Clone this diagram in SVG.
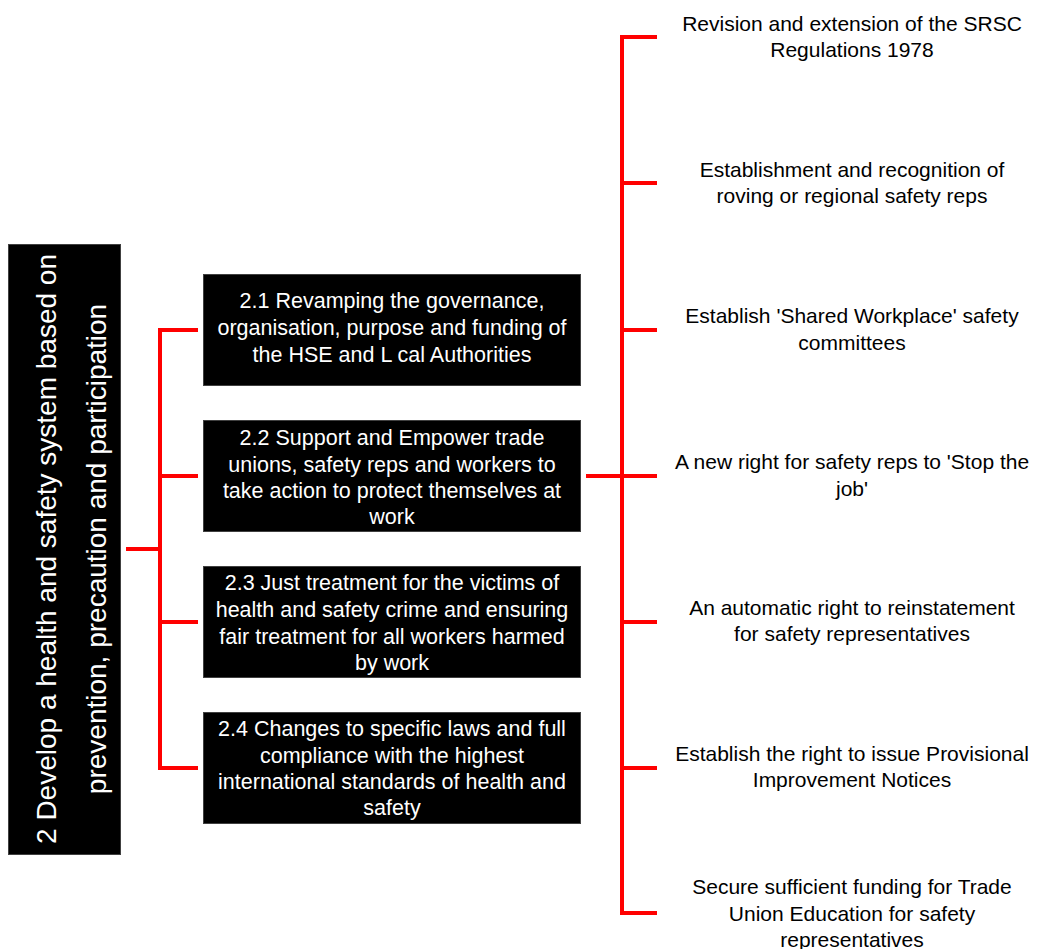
<svg xmlns="http://www.w3.org/2000/svg" width="1044" height="949" viewBox="0 0 1044 949">
<style>
.box{fill:#000;stroke:#404040;stroke-width:1}
.wt{fill:#fff;font-family:"Liberation Sans",Arial,sans-serif;font-size:21.5px;text-anchor:middle}
.bt{fill:#000;font-family:"Liberation Sans",Arial,sans-serif;font-size:21px;text-anchor:middle}
.mt{fill:#fff;font-family:"Liberation Sans",Arial,sans-serif;font-size:28px;text-anchor:middle}
.ln{stroke:#ff0000;stroke-width:4;fill:none}
</style>
<rect width="1044" height="949" fill="#fff"/>
<g id="root">
<rect class="box" x="8.5" y="244.5" width="112" height="610"/>
<text class="mt" transform="translate(0,549) rotate(-90)"><tspan x="0" y="56">2 Develop a health and safety system based on</tspan><tspan x="0" y="106">prevention, precaution and participation</tspan></text>
</g>
<g id="n21">
<rect class="box" x="203.5" y="274.5" width="377" height="111"/>
<text class="wt"><tspan x="392" y="308">2.1 Revamping the governance,</tspan><tspan x="392" y="335">organisation, purpose and funding of</tspan><tspan x="392" y="362">the HSE and L cal Authorities</tspan></text>
</g>
<g id="n22">
<rect class="box" x="203.5" y="420.5" width="377" height="111"/>
<text class="wt"><tspan x="392" y="445">2.2 Support and Empower trade</tspan><tspan x="392" y="472">unions, safety reps and workers to</tspan><tspan x="392" y="498">take action to protect themselves at</tspan><tspan x="392" y="524">work</tspan></text>
</g>
<g id="n23">
<rect class="box" x="203.5" y="566.5" width="377" height="111"/>
<text class="wt"><tspan x="392" y="590">2.3 Just treatment for the victims of</tspan><tspan x="392" y="617">health and safety crime and ensuring</tspan><tspan x="392" y="644">fair treatment for all workers harmed</tspan><tspan x="392" y="670">by work</tspan></text>
</g>
<g id="n24">
<rect class="box" x="203.5" y="712.5" width="377" height="111"/>
<text class="wt"><tspan x="392" y="736">2.4 Changes to specific laws and full</tspan><tspan x="392" y="763">compliance with the highest</tspan><tspan x="392" y="789">international standards of health and</tspan><tspan x="392" y="815">safety</tspan></text>
</g>
<g id="r1"><text class="bt"><tspan x="852" y="31">Revision and extension of the SRSC</tspan><tspan x="852" y="57">Regulations 1978</tspan></text></g>
<g id="r2"><text class="bt"><tspan x="852" y="177">Establishment and recognition of</tspan><tspan x="852" y="203">roving or regional safety reps</tspan></text></g>
<g id="r3"><text class="bt"><tspan x="852" y="323">Establish 'Shared Workplace' safety</tspan><tspan x="852" y="350">committees</tspan></text></g>
<g id="r4"><text class="bt"><tspan x="852" y="469">A new right for safety reps to 'Stop the</tspan><tspan x="852" y="496">job'</tspan></text></g>
<g id="r5"><text class="bt"><tspan x="852" y="615">An automatic right to reinstatement</tspan><tspan x="852" y="641">for safety representatives</tspan></text></g>
<g id="r6"><text class="bt"><tspan x="852" y="761">Establish the right to issue Provisional</tspan><tspan x="852" y="787">Improvement Notices</tspan></text></g>
<g id="r7"><text class="bt"><tspan x="852" y="894">Secure sufficient funding for Trade</tspan><tspan x="852" y="921">Union Education for safety</tspan><tspan x="852" y="947">representatives</tspan></text></g>
<g id="connectors">
<path class="ln" d="M126 549H160M160 328V770M158 330H198M160 476H198M160 622H198M158 768H198"/>
<path class="ln" d="M586 476H622M622 35V915M620 37H657M622 183H657M622 330H657M622 476H657M622 622H657M622 768H657M620 913H657"/>
</g>
</svg>
